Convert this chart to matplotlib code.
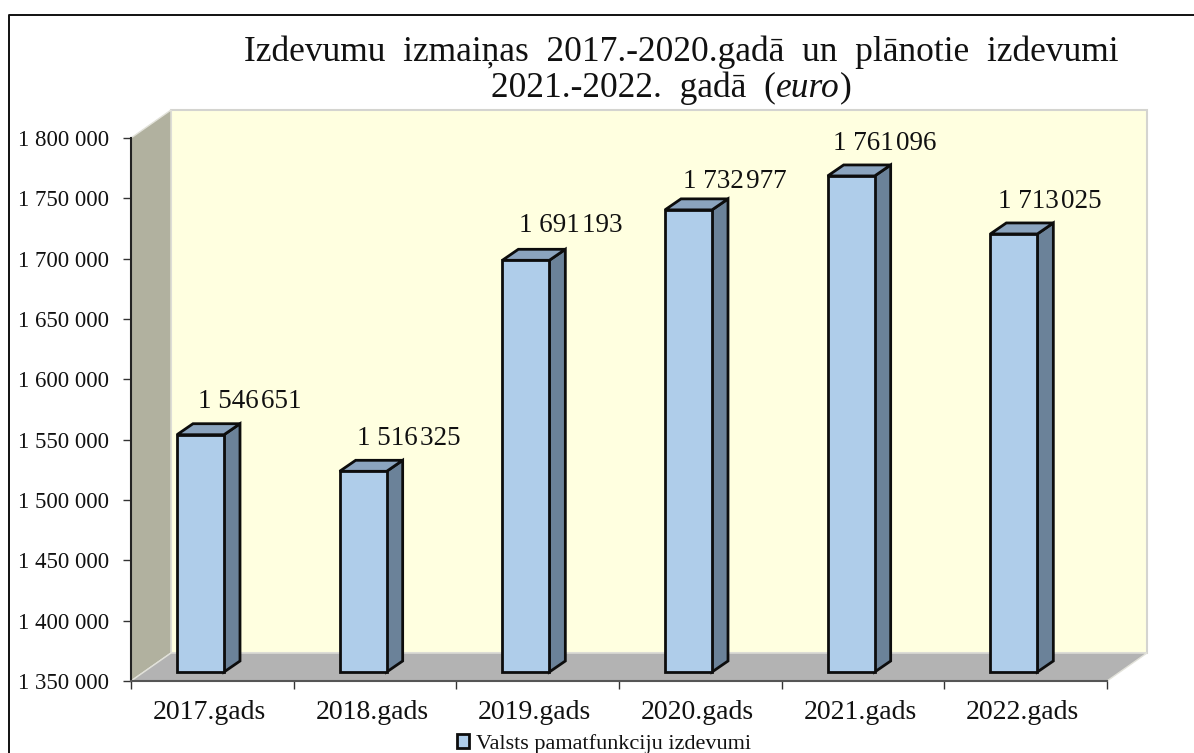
# -*- coding: utf-8 -*-
import matplotlib
matplotlib.use('Agg')
import matplotlib.pyplot as plt
from matplotlib.lines import Line2D
from matplotlib.patches import Polygon
import numpy as np

plt.rcParams['font.family'] = ['Liberation Serif', 'DejaVu Serif']

# Datos
years = ['2017.gads', '2018.gads', '2019.gads', '2020.gads', '2021.gads', '2022.gads']
values = [1546651, 1516325, 1691193, 1732977, 1761096, 1713025]
value_labels = ['1 546\u200a651', '1 516\u200a325', '1 691\u200a193',
                '1 732\u200a977', '1 761\u200a096', '1 713\u200a025']
yticks = [1350000, 1400000, 1450000, 1500000, 1550000, 1600000, 1650000,
          1700000, 1750000, 1800000]
legend_label = 'Valsts pamatfunkciju izdevumi'

# Geometria en pixeles de la imagen
W, H = 1194, 753
ax_l, ax_r, ax_t, ax_b = 131, 1107, 138, 681
ymin, ymax = 1350000, 1800000
cat_px = (ax_r - ax_l) / len(years)
val_px = (ax_b - ax_t) / (ymax - ymin)


def dx(px):
    return px / cat_px


def dy(px):
    return px / val_px


fig = plt.figure(figsize=(W / 100, H / 100), dpi=100, facecolor='white')
ax = fig.add_axes([ax_l / W, 1 - ax_b / H, (ax_r - ax_l) / W, (ax_b - ax_t) / H])
ax.set_xlim(0, len(years))
ax.set_ylim(ymin, ymax)
ax.patch.set_visible(False)

# Paredes 3D
depth_x, depth_y = dx(40), dy(28)
ax.add_patch(Polygon([(depth_x, ymin + depth_y), (depth_x, ymax + depth_y),
                      (len(years) + depth_x, ymax + depth_y), (len(years) + depth_x, ymin + depth_y)],
                     facecolor='#ffffe0', edgecolor='#d4d4d0', lw=1.5, clip_on=False, zorder=1))
ax.add_patch(Polygon([(0, ymin), (0, ymax), (depth_x, ymax + depth_y), (depth_x, ymin + depth_y)],
                     facecolor='#b1b19f', edgecolor='#e2e2da', lw=1, clip_on=False, zorder=2))
ax.add_patch(Polygon([(0, ymin), (depth_x, ymin + depth_y),
                      (len(years) + depth_x, ymin + depth_y), (len(years), ymin)],
                     facecolor='#b3b3b3', edgecolor='#e2e2da', lw=1, clip_on=False, zorder=2))

# Barras
bar_w = dx(47)
side_x, side_y = dx(16), dy(11)
shift_y = dy(9)
base = ymin + shift_y
left = np.arange(len(years)) + dx(46)
bars = ax.bar(left, np.array(values) - ymin, width=bar_w, bottom=base, align='edge',
              facecolor='#afcdea', edgecolor='#0d0d0d', lw=2, zorder=5, clip_on=False,
              label=legend_label)
for x0, v in zip(left, values):
    top = v + shift_y
    x1 = x0 + bar_w
    ax.add_patch(Polygon([(x1, base), (x1 + side_x, base + side_y), (x1 + side_x, top + side_y), (x1, top)],
                         facecolor='#6b8299', edgecolor='#0d0d0d', lw=2, clip_on=False, zorder=4))
    ax.add_patch(Polygon([(x0, top), (x0 + side_x, top + side_y), (x1 + side_x, top + side_y), (x1, top)],
                         facecolor='#8ba4bf', edgecolor='#0d0d0d', lw=2, clip_on=False, zorder=4))

# Etiquetas de valor
label_x = [250, 409, 571, 735, 885, 1050]
label_y = [402, 438, 225, 182, 144, 201]
for xp, yp, txt in zip(label_x, label_y, value_labels):
    ax.text(xp / W, 1 - yp / H, txt, transform=fig.transFigure, ha='center', va='center',
            fontsize=19.5, color='#111111', zorder=8)

# Ejes
for s in ['top', 'right']:
    ax.spines[s].set_visible(False)
ax.spines['left'].set_color('#222222')
ax.spines['left'].set_linewidth(1.5)
ax.spines['bottom'].set_color('#555555')
ax.spines['bottom'].set_linewidth(1.5)
ax.spines['left'].set_zorder(3)
ax.spines['bottom'].set_zorder(3)
ax.set_yticks(yticks)
ax.set_yticklabels([f'{v:,}'.replace(',', ' ') for v in yticks], fontsize=16.5, color='#111111')
ax.set_xticks(np.arange(len(years) + 1))
ax.set_xticklabels([])
ax.set_xticks(np.arange(len(years)) + 0.5 - dx(3), labels=years, minor=True, fontsize=20, color='#111111')
ax.tick_params(axis='x', which='minor', length=0, pad=14)
ax.tick_params(axis='x', which='major', length=5.5, width=1, color='#333333', direction='out')
ax.tick_params(axis='y', length=5.5, width=1, color='#333333', pad=10)

# Titulo
title_fs = 25.5
fig.text(681 / W, 1 - 52 / H, 'Izdevumu  izmaiņas  2017.-2020.gadā  un  plānotie  izdevumi',
         ha='center', va='center', fontsize=title_fs, color='#111111')
t1 = fig.text(491 / W, 1 - 88 / H, '2021.-2022.  gadā  (', ha='left', va='center',
              fontsize=title_fs, color='#111111')
t2 = ax.annotate('euro', xy=(1, 0), xycoords=t1, va='bottom', ha='left',
                 fontsize=title_fs, style='italic', color='#111111')
ax.annotate(')', xy=(1, 0), xycoords=t2, va='bottom', ha='left',
            fontsize=title_fs, color='#111111')

# Leyenda
ax.legend(handles=[bars], loc='center', bbox_to_anchor=(604 / W, 1 - 744 / H),
          bbox_transform=fig.transFigure, frameon=False, fontsize=16, handlelength=0.55,
          handleheight=0.55, handletextpad=0.3, borderpad=0, labelcolor='#111111')

# Marco
frame_x = [9 / W, 9 / W, 1]
frame_y = [0, 1 - 15 / H, 1 - 15 / H]
fig.add_artist(Line2D(frame_x, frame_y, color='#111111', lw=1.4, transform=fig.transFigure))

fig.savefig('out.png', dpi=100)
